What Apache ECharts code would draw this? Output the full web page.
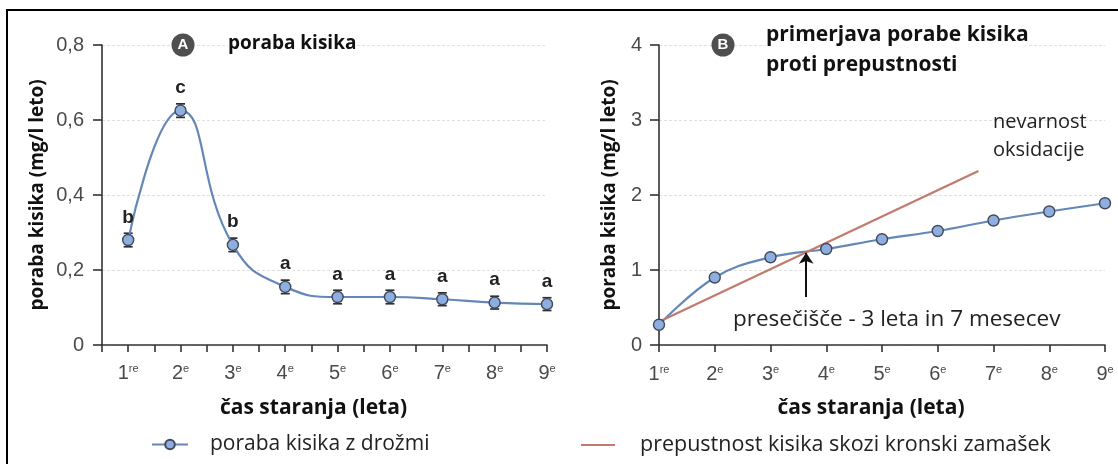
<!DOCTYPE html>
<html>
<head>
<meta charset="utf-8">
<script src="https://cdn.jsdelivr.net/npm/echarts@6/dist/echarts.min.js"></script>
<style>
html,body{margin:0;padding:0;background:#fff;}
#chart{width:1118px;height:464px;}
</style>
</head>
<body>
<div id="chart"></div>
<script>
// ---- data ----
const years = [1, 2, 3, 4, 5, 6, 7, 8, 9];
const yearSuffix = ['re', 'e', 'e', 'e', 'e', 'e', 'e', 'e', 'e'];
const consumptionA = [0.28, 0.625, 0.267, 0.155, 0.128, 0.128, 0.122, 0.113, 0.109];
const errorA = [0.018, 0.018, 0.018, 0.018, 0.018, 0.018, 0.017, 0.017, 0.017];
const lettersA = ['b', 'c', 'b', 'a', 'a', 'a', 'a', 'a', 'a'];
const consumptionB = [0.27, 0.90, 1.17, 1.28, 1.41, 1.52, 1.66, 1.78, 1.89];
const permeationX = [1, 6.73];
const permeationY = [0.31, 2.32];
const crossingX = 3.64;
const arrowFromY = 0.64;
const arrowToY = 1.23;

const nameA = 'poraba kisika z drožmi';
const nameB = 'prepustnost kisika skozi kronski zamašek';
const yName = 'poraba kisika (mg/l leto)';
const xName = 'čas staranja (leta)';

const seriesA = years.map((y, i) => [y, consumptionA[i]]);
const errA = years.map((y, i) => [y, consumptionA[i] - errorA[i], consumptionA[i] + errorA[i]]);
const seriesB = years.map((y, i) => [y, consumptionB[i]]);
const redLine = permeationX.map((x, i) => [x, permeationY[i]]);

const TICK_FONT = 'Liberation Sans Narrow, Liberation Sans, Arial';
const TEXT_FONT = 'Open Sans';

function xLabel(v) {
  if (Math.abs(v - Math.round(v)) > 1e-6) return '';
  const idx = years.indexOf(Math.round(v));
  if (idx < 0) return '';
  return '{n|' + years[idx] + '}{s|' + yearSuffix[idx] + '}';
}
const xRich = {
  n: { fontFamily: TICK_FONT, fontSize: 20, color: '#4a4a4a', lineHeight: 21 },
  s: { fontFamily: TICK_FONT, fontSize: 11, color: '#4a4a4a', lineHeight: 21, verticalAlign: 'top', padding: [0, 0, 9, 0] }
};

const axisLine = { show: true, lineStyle: { color: '#333', width: 1.6 } };
const axisTick = { show: true, length: 7, lineStyle: { color: '#333', width: 1.6 } };
const yTick = { show: true, length: 9, lineStyle: { color: '#333', width: 1.6 } };
const splitLine = { show: true, lineStyle: { color: '#e0e0e0', width: 1, type: [3, 2] } };
const xNameStyle = { fontFamily: TEXT_FONT, fontWeight: 'bold', fontSize: 21, color: '#111', padding: [0, 22, 0, 0] };
const yNameStyle = { fontFamily: TEXT_FONT, fontWeight: 'bold', fontSize: 19, color: '#111' };

const blueLine = '#6487b8';
const markerFill = '#8eaee0';
const markerBorder = '#3f4a5c';
const red = '#c27a6d';

const chart = echarts.init(document.getElementById('chart'), null, { renderer: 'canvas' });

const option = {
  backgroundColor: '#fff',
  animation: false,
  grid: [
    { left: 102, top: 45, width: 445, height: 300 },
    { left: 659, top: 45, width: 446, height: 300 }
  ],
  xAxis: [
    {
      type: 'value', gridIndex: 0, min: 0.5, max: 9, interval: 0.5,
      axisLine: axisLine, axisTick: axisTick, splitLine: { show: false },
      axisLabel: { formatter: xLabel, rich: xRich, margin: 18 },
      name: xName, nameLocation: 'middle', nameGap: 53, nameTextStyle: xNameStyle
    },
    {
      type: 'value', gridIndex: 1, min: 1, max: 9, interval: 1,
      axisLine: axisLine, axisTick: axisTick, splitLine: { show: false },
      axisLabel: { formatter: xLabel, rich: xRich, margin: 19 },
      name: xName, nameLocation: 'middle', nameGap: 53, nameTextStyle: xNameStyle
    }
  ],
  yAxis: [
    {
      type: 'value', gridIndex: 0, min: 0, max: 0.8, interval: 0.2,
      axisLine: axisLine, axisTick: yTick, splitLine: splitLine,
      axisLabel: {
        formatter: v => (v === 0 ? '0' : v.toFixed(1).replace('.', ',')),
        fontFamily: TICK_FONT, fontSize: 20, color: '#4a4a4a', margin: 18
      },
      name: yName, nameLocation: 'middle', nameRotate: 90, nameGap: 55, nameTextStyle: yNameStyle
    },
    {
      type: 'value', gridIndex: 1, min: 0, max: 4, interval: 1,
      axisLine: axisLine, axisTick: yTick, splitLine: splitLine,
      axisLabel: { fontFamily: TICK_FONT, fontSize: 20, color: '#4a4a4a', margin: 17 },
      name: yName, nameLocation: 'middle', nameRotate: 90, nameGap: 40, nameTextStyle: yNameStyle
    }
  ],
  legend: [
    {
      data: [nameA], left: 146, top: 429, itemWidth: 36, itemHeight: 12, selectedMode: false,
      textStyle: { fontFamily: TEXT_FONT, fontSize: 21, color: '#222', padding: [0, 0, 0, 17] }
    },
    {
      data: [{ name: nameB, icon: 'rect' }], left: 576, top: 429, itemWidth: 34, itemHeight: 2, selectedMode: false,
      textStyle: { fontFamily: TEXT_FONT, fontSize: 21.5, color: '#222', padding: [0, 0, 0, 20] }
    }
  ],
  series: [
    {
      type: 'custom', xAxisIndex: 0, yAxisIndex: 0, z: 1, silent: true,
      data: errA, encode: { x: 0, y: [1, 2] },
      renderItem: function (params, api) {
        const x = api.value(0);
        const top = api.coord([x, api.value(2)]);
        const bot = api.coord([x, api.value(1)]);
        const w = 4.5;
        const st = { stroke: '#2e2e2e', lineWidth: 1.7 };
        return {
          type: 'group', children: [
            { type: 'line', shape: { x1: top[0], y1: top[1], x2: bot[0], y2: bot[1] }, style: st },
            { type: 'line', shape: { x1: top[0] - w, y1: top[1], x2: top[0] + w, y2: top[1] }, style: st },
            { type: 'line', shape: { x1: bot[0] - w, y1: bot[1], x2: bot[0] + w, y2: bot[1] }, style: st }
          ]
        };
      }
    },
    {
      name: nameA, type: 'line', xAxisIndex: 0, yAxisIndex: 0, z: 3,
      data: seriesA, smooth: 0.5, symbol: 'circle', symbolSize: 11, showSymbol: true,
      lineStyle: { color: blueLine, width: 2.2 },
      itemStyle: { color: markerFill, borderColor: markerBorder, borderWidth: 1.4 },
      label: {
        show: true, position: 'top', distance: 7,
        formatter: p => lettersA[p.dataIndex],
        fontFamily: 'Liberation Sans, Arial', fontWeight: 'bold', fontSize: 19, color: '#222'
      }
    },
    {
      name: nameA, type: 'line', xAxisIndex: 1, yAxisIndex: 1, z: 2,
      data: seriesB, smooth: 0.4, showSymbol: false, symbol: 'none',
      lineStyle: { color: blueLine, width: 2.2 }
    },
    {
      name: nameB, type: 'line', xAxisIndex: 1, yAxisIndex: 1, z: 3,
      data: redLine, showSymbol: false, symbol: 'none',
      lineStyle: { color: red, width: 2.2 }, itemStyle: { color: red },
      markLine: {
        silent: true, symbol: ['none', 'arrow'], symbolSize: 11,
        label: { show: false },
        lineStyle: { color: '#111', width: 2, type: 'solid' },
        data: [[{ coord: [crossingX, arrowFromY] }, { coord: [crossingX, arrowToY] }]]
      }
    },
    {
      name: nameA, type: 'scatter', xAxisIndex: 1, yAxisIndex: 1, z: 4,
      data: seriesB, symbol: 'circle', symbolSize: 11,
      itemStyle: { color: markerFill, borderColor: markerBorder, borderWidth: 1.4, opacity: 1 }
    }
  ],
  graphic: [
    { type: 'rect', z: 100, shape: { x: 7, y: 10, width: 1120, height: 470 }, style: { fill: 'none', stroke: '#000', lineWidth: 2 }, silent: true },
    { type: 'circle', z: 100, shape: { cx: 183, cy: 45, r: 11.5 }, style: { fill: '#4f4f4f' } },
    { type: 'text', z: 101, x: 183, y: 45, style: { text: 'A', fill: '#fff', font: 'bold 15px Liberation Sans', textAlign: 'center', textVerticalAlign: 'middle' } },
    { type: 'text', z: 100, left: 228, top: 34, style: { text: 'poraba kisika', fill: '#111', font: 'bold 19px Open Sans', backgroundColor: '#fff' } },
    { type: 'circle', z: 100, shape: { cx: 723, cy: 45, r: 11.5 }, style: { fill: '#4f4f4f' } },
    { type: 'text', z: 101, x: 723, y: 45, style: { text: 'B', fill: '#fff', font: 'bold 15px Liberation Sans', textAlign: 'center', textVerticalAlign: 'middle' } },
    { type: 'text', z: 100, left: 766, top: 25, style: { text: 'primerjava porabe kisika', fill: '#111', font: 'bold 21px Open Sans', backgroundColor: '#fff' } },
    { type: 'text', z: 100, left: 766, top: 55, style: { text: 'proti prepustnosti', fill: '#111', font: 'bold 21px Open Sans', backgroundColor: '#fff' } },
    { type: 'text', z: 100, left: 993, top: 112, style: { text: 'nevarnost', fill: '#222', font: '20px Open Sans' } },
    { type: 'text', z: 100, left: 993, top: 140, style: { text: 'oksidacije', fill: '#222', font: '20px Open Sans' } },
    { type: 'text', z: 100, left: 733, top: 308, style: { text: 'presečišče - 3 leta in 7 mesecev', fill: '#222', font: '22.5px Open Sans' } }
  ]
};
chart.setOption(option);
</script>
</body>
</html>
